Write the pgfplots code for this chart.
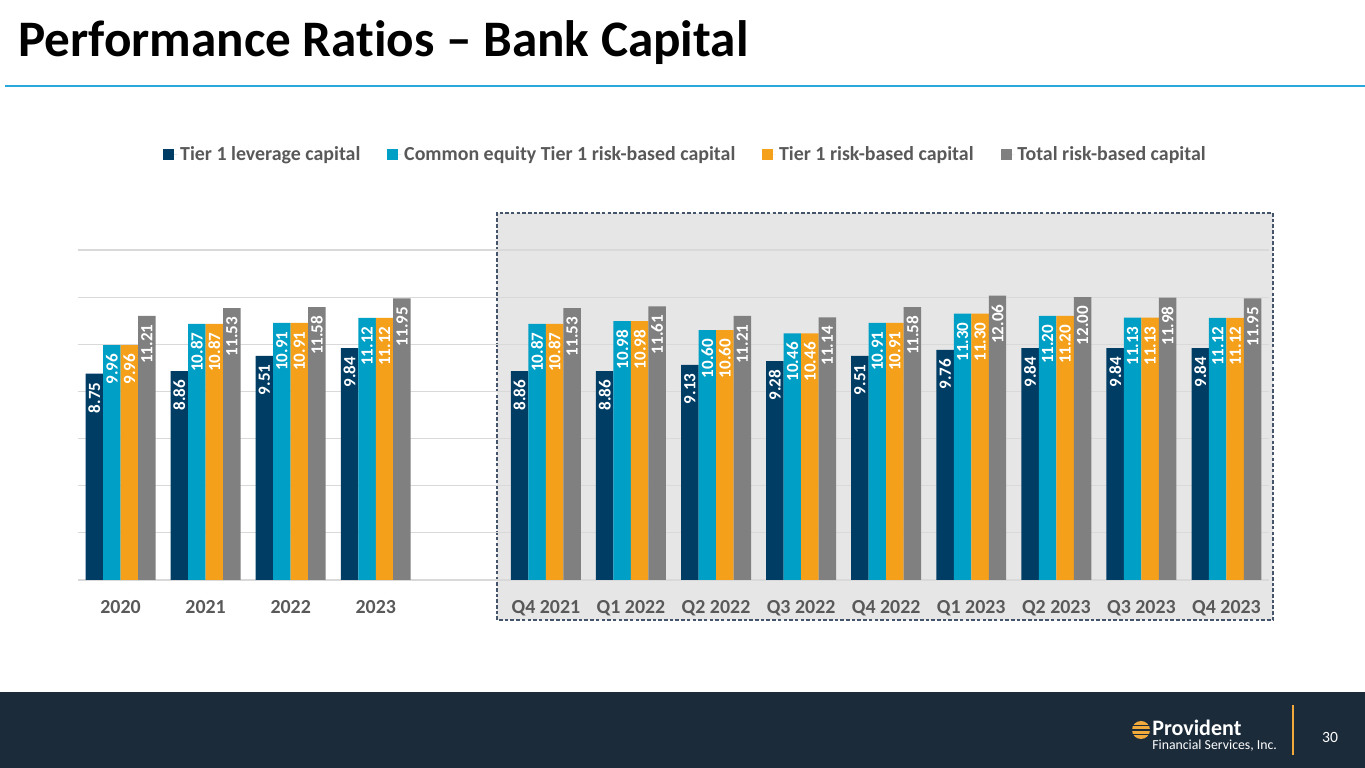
\documentclass[border=0pt]{standalone}
\usepackage{fontspec}
\setmainfont{Carlito}[Ligatures={TeX,NoCommon}]
\usepackage{pgfplots}
\pgfplotsset{compat=1.18}
\definecolor{navy}{HTML}{003D65}
\definecolor{teal}{HTML}{00A0C6}
\definecolor{orng}{HTML}{F5A01A}
\definecolor{gry}{HTML}{808080}
\definecolor{txtgray}{HTML}{595959}
\definecolor{gridc}{HTML}{D9D9D9}
\definecolor{boxfill}{HTML}{E7E6E6}
\definecolor{boxborder}{HTML}{44546A}
\definecolor{cyanline}{HTML}{29A9DB}
\definecolor{footer}{HTML}{1C2B3A}
\definecolor{logoorange}{HTML}{F2A93B}
\begin{document}
\begin{tikzpicture}
\begin{scope}[x=0.70330pt,y=0.70330pt]
\fill[white] (0,0) rectangle (1365,768);
\useasboundingbox (0,0) rectangle (1365,768);
\node[anchor=base west, inner sep=0pt, font=\bfseries\fontsize{36}{42}\selectfont] at (18,711) {Performance Ratios – Bank Capital};
\draw[cyanline, line width=1.6pt] (5,682) -- (1365,682);
\fill[boxfill] (497,148) rectangle (1273,555);
\draw[boxborder, line width=0.8pt, dash pattern=on 2.5pt off 1.5pt] (497,148) rectangle (1273,555);
\fill[footer] (0,0) rectangle (1365,76);
% logo
\fill[logoorange] (1141,38) circle (9);
\foreach \yy in {33.5,38,42.5} {\draw[footer, line width=1pt] (1130,\yy) -- (1152,\yy);}
\node[anchor=base west, inner sep=0pt, text=white, font=\bfseries\fontsize{15.5}{16}\selectfont] at (1152,32) {Provident};
\node[anchor=base west, inner sep=0pt, text=white, font=\fontsize{9.7}{10}\selectfont] at (1152,18) {Financial Services, Inc.};
\draw[logoorange, line width=1.5pt] (1293,13) -- (1293,63);
\node[text=white, font=\fontsize{11}{12}\selectfont] at (1330,31) {30};
\end{scope}
\begin{axis}[
  at={(54.857pt,132.22pt)}, anchor=south west,
  scale only axis, width=837.63pt, height=232.09pt,
  xmin=-0.5, xmax=13.5, ymin=0, ymax=14,
  ybar=0pt, bar width=12.3pt,
  xtick={0,1,2,3,5,6,7,8,9,10,11,12,13},
  xticklabels={2020,2021,2022,2023,Q4 2021,Q1 2022,Q2 2022,Q3 2022,Q4 2022,Q1 2023,Q2 2023,Q3 2023,Q4 2023},
  ytick={0,2,...,14}, yticklabels={},
  ymajorgrids, grid style={gridc, line width=0.75pt},
  axis line style={draw=none}, major tick length=0pt,
  xticklabel style={font=\bfseries\fontsize{14}{14}\selectfont, text=txtgray, yshift=-10.5pt},
  /pgf/number format/assume math mode=true,
  nodes near coords={\pgfmathprintnumber[fixed,fixed zerofill,precision=2]{\pgfplotspointmeta}},
  every node near coord/.append style={rotate=90, anchor=east, text=white, font=\bfseries\fontsize{12}{12}\selectfont, inner xsep=6pt},
  legend style={at={(0.5105,1.288)}, anchor=center, draw=none, fill=none, font=\bfseries\fontsize{14}{16}\selectfont, text=txtgray, /tikz/every even column/.append style={column sep=17pt}},
  legend columns=4, legend cell align=left,
  legend image code/.code={\fill[#1] (0pt,-3.6pt) rectangle (7.7pt,4.1pt); \path (0pt,0pt) -- (9.8pt,0pt);},
]
\addplot[fill=navy, draw=none] coordinates {(0,8.75) (1,8.86) (2,9.51) (3,9.84) (5,8.86) (6,8.86) (7,9.13) (8,9.28) (9,9.51) (10,9.76) (11,9.84) (12,9.84) (13,9.84)};
\addlegendentry{Tier 1 leverage capital}
\addplot[fill=teal, draw=none] coordinates {(0,9.96) (1,10.87) (2,10.91) (3,11.12) (5,10.87) (6,10.98) (7,10.60) (8,10.46) (9,10.91) (10,11.30) (11,11.20) (12,11.13) (13,11.12)};
\addlegendentry{Common equity Tier 1 risk-based capital}
\addplot[fill=orng, draw=none] coordinates {(0,9.96) (1,10.87) (2,10.91) (3,11.12) (5,10.87) (6,10.98) (7,10.60) (8,10.46) (9,10.91) (10,11.30) (11,11.20) (12,11.13) (13,11.12)};
\addlegendentry{Tier 1 risk-based capital}
\addplot[fill=gry, draw=none] coordinates {(0,11.21) (1,11.53) (2,11.58) (3,11.95) (5,11.53) (6,11.61) (7,11.21) (8,11.14) (9,11.58) (10,12.06) (11,12.00) (12,11.98) (13,11.95)};
\addlegendentry{Total risk-based capital}
\end{axis}
\end{tikzpicture}
\end{document}
